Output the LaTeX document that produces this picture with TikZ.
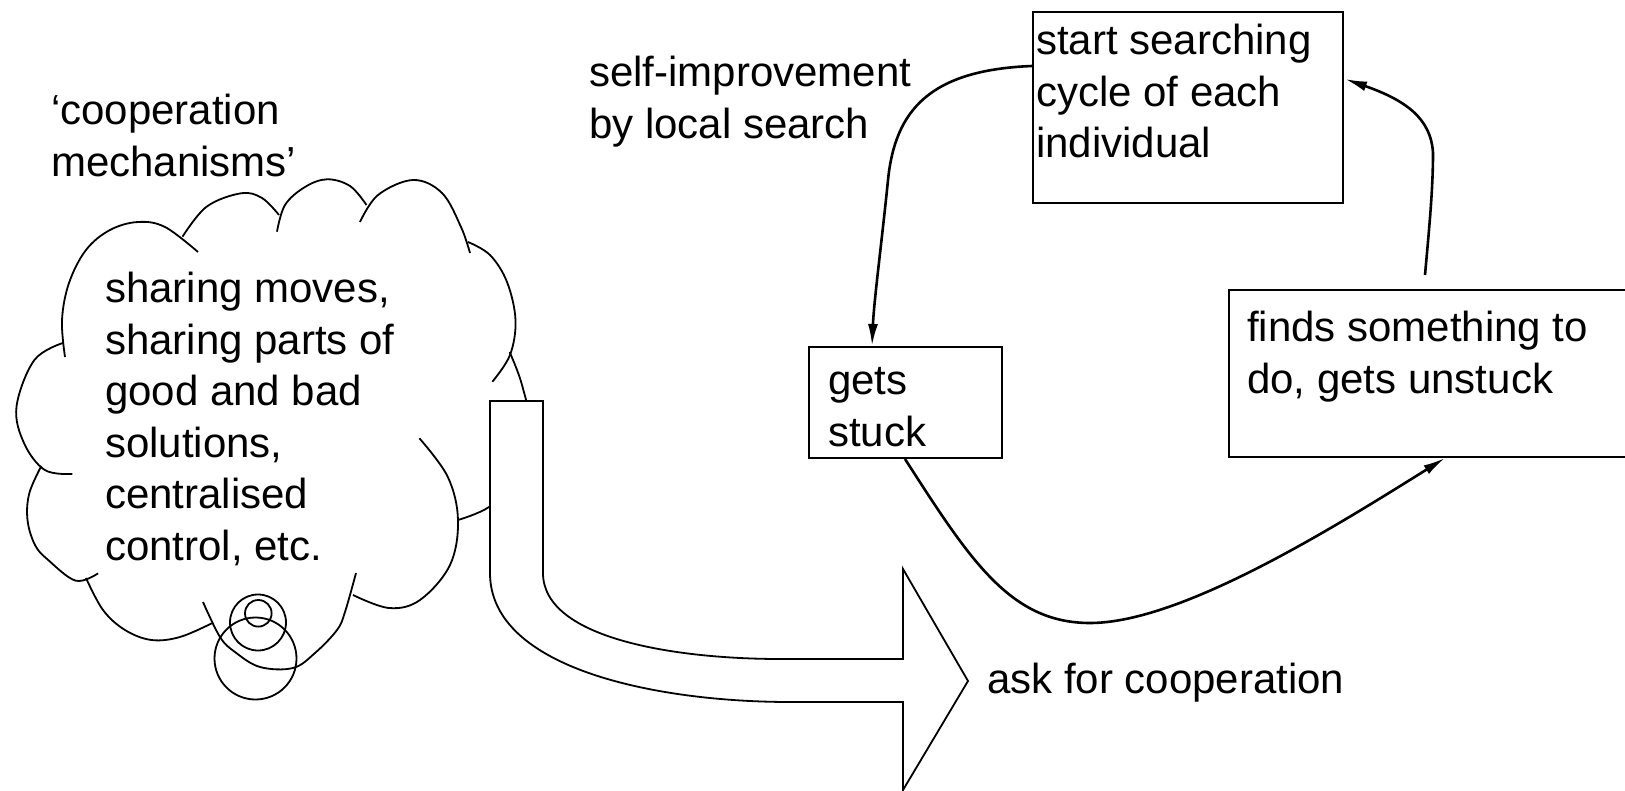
\documentclass[tikz,border=0pt]{standalone}
\usepackage{fontspec}
\setmainfont{Liberation Sans}
\usetikzlibrary{arrows.meta,calc}
\begin{document}
\begin{tikzpicture}[x=1pt,y=-1pt,
  txt/.style={anchor=base west, inner sep=0pt, font=\fontsize{42pt}{51.5pt}\selectfont},
  boxnode/.style={draw, line width=2pt, anchor=north west, inner sep=0pt},
  conn/.style={line width=2.6pt, -{Latex[length=22pt,width=10pt]}},
  cloudline/.style={line width=1.8pt},
  bigarrow/.style={draw, line width=1.8pt, fill=white, line join=miter}]
\clip (0,0) rectangle (1625,791);

% cloud
\draw[cloudline] plot[smooth, tension=0.6] coordinates {(65,357) (62,320) (69,283) (86,250) (110,230) (138,222) (165,227) (198,252)};
\draw[cloudline] plot[smooth, tension=0.6] coordinates {(182.5,236.7) (206.6,206.7) (241,193.3) (262,198) (279,215)};
\draw[cloudline] plot[smooth, tension=0.6] coordinates {(277,231.7) (285,205) (305,187) (327,179.3) (350,186) (366.5,205)};
\draw[cloudline] plot[smooth, tension=0.6] coordinates {(360,222) (378,195) (413,180) (442,193) (461,227) (470,253)};
\draw[cloudline] plot[smooth, tension=0.6] coordinates {(468,242) (490,255) (507,282) (515.5,320) (510,355) (492.4,381.7)};
\draw[cloudline] plot[smooth, tension=0.6] coordinates {(509.6,352) (522,385) (530,430) (515,480) (489,507) (458,520)};
\draw[cloudline] plot[smooth, tension=0.6] coordinates {(419.4,438.3) (447.7,476.7) (458,520) (450,565) (420,600) (389,608) (353,595)};
\draw[cloudline] plot[smooth, tension=0.6] coordinates {(356,573) (345,612) (337,630) (315,653) (293,668) (260,667) (235,652) (220,637) (203,602)};
\draw[cloudline] plot[smooth, tension=0.6] coordinates {(86,578) (103,610) (125,630) (151.5,640) (180,637) (211.8,623.3)};
\draw[cloudline] plot[smooth, tension=0.6] coordinates {(41.3,466) (29.3,493.3) (27.5,520) (35,545) (48.2,560) (75.8,580.7) (98.1,573.3)};
\draw[cloudline] plot[smooth, tension=0.6] coordinates {(63.7,342.7) (34.4,360) (16.5,406.7) (24.1,443.3) (44.8,470) (72.3,474)};

% thought bubbles
\draw[cloudline] (258.3,613.3) circle[radius=13.3];
\draw[cloudline] (258,622.5) circle[radius=28];
\draw[cloudline] (255.5,658.5) circle[radius=41];

% big hollow arrow
\draw[bigarrow] (490,401) -- (543,401) -- (543,573)
  .. controls (543,640) and (680,659) .. (780,659) -- (903,659) -- (903,569)
  -- (968,681) -- (903,790) -- (903,702) -- (790,702)
  .. controls (660,702) and (490,670) .. (490,573) -- cycle;

% boxes
\node[boxnode, minimum width=310pt, minimum height=191pt] (start) at (1032,11) {};
\node[boxnode, minimum width=193pt, minimum height=111pt] (stuck) at (808,346) {};
\node[boxnode, minimum width=420pt, minimum height=167pt] (finds) at (1228,289) {};

% texts
\node[txt] (cooptext) at (51,125) {\vtop{\hbox{‘cooperation}\hbox{mechanisms’}}};
\node[txt] (selftext) at (589,87) {\vtop{\hbox{self-improvement}\hbox{by local search}}};
\node[txt] (cloudtext) at (105,303) {\vtop{\hbox{sharing moves,}\hbox{sharing parts of}\hbox{good and bad}\hbox{solutions,}\hbox{centralised}\hbox{control, etc.}}};
\node[txt] (starttext) at (1036,55) {\vtop{\hbox{start searching}\hbox{cycle of each}\hbox{individual}}};
\node[txt] (stucktext) at (828,395) {\vtop{\hbox{gets}\hbox{stuck}}};
\node[txt] (findstext) at (1247,342) {\vtop{\hbox{finds something to}\hbox{do, gets unstuck}}};
\node[txt] (asktext) at (987,693) {ask for cooperation};

% connectors
\draw[conn] ($(start.north west)+(0,55)$) .. controls (930,70) and (895,110) .. (888,180)
  .. controls (882,240) and (874,300) .. ($(stuck.north west)+(64,0)$);
\draw[conn] ($(stuck.south west)+(97,0)$) .. controls (970,560) and (1010,623) .. (1090,623)
  .. controls (1180,623) and (1330,530) .. ($(finds.south west)+(217,0)$);
\draw[conn] ($(finds.north west)+(197,-14)$) .. controls (1429,230) and (1433,190) .. (1433,153)
  .. controls (1431,118) and (1405,100) .. ($(start.north east)+(1,68)$);
\end{tikzpicture}
\end{document}
